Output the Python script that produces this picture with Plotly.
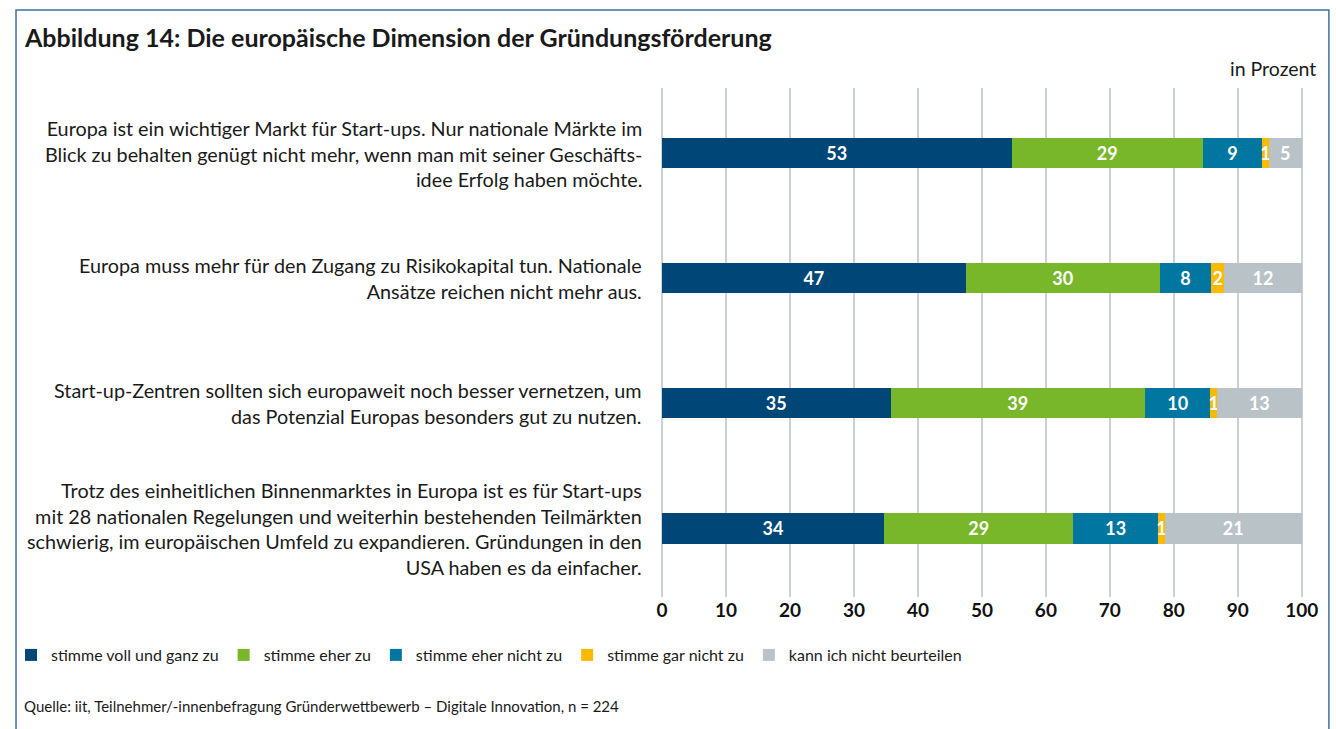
import plotly.graph_objects as go

# ---- data ----
statements = [
    "Europa ist ein wichtiger Markt für Start-ups. Nur nationale Märkte im<br>Blick zu behalten genügt nicht mehr, wenn man mit seiner Geschäfts-<br>idee Erfolg haben möchte.",
    "Europa muss mehr für den Zugang zu Risikokapital tun. Nationale<br>Ansätze reichen nicht mehr aus.",
    "Start-up-Zentren sollten sich europaweit noch besser vernetzen, um<br>das Potenzial Europas besonders gut zu nutzen.",
    "Trotz des einheitlichen Binnenmarktes in Europa ist es für Start-ups<br>mit 28 nationalen Regelungen und weiterhin bestehenden Teilmärkten<br>schwierig, im europäischen Umfeld zu expandieren. Gründungen in den<br>USA haben es da einfacher.",
]
series_names = ["stimme voll und ganz zu", "stimme eher zu", "stimme eher nicht zu",
                "stimme gar nicht zu", "kann ich nicht beurteilen"]
voll_und_ganz = [53, 47, 35, 34]
eher_zu = [29, 30, 39, 29]
eher_nicht = [9, 8, 10, 13]
gar_nicht = [1, 2, 1, 1]
nicht_beurteilen = [5, 12, 13, 21]
series_values = [voll_und_ganz, eher_zu, eher_nicht, gar_nicht, nicht_beurteilen]
colors = ["#004676", "#78b72a", "#0076a0", "#fbb900", "#b9c3c7"]
x_ticks = [0, 10, 20, 30, 40, 50, 60, 70, 80, 90, 100]

FONT = "Lato"
W, H = 1336, 729
L, R, T, B = 659, 31, 88, 132
pw, ph = W - L - R, H - T - B

def px_x(x):
    return (x - L) / pw

def px_y(y):
    return (H - B - y) / ph

keys = list(range(len(statements)))

fig = go.Figure()
for name, vals, col in zip(series_names, series_values, colors):
    fig.add_trace(go.Bar(
        y=keys, x=vals, name=name, orientation="h",
        marker=dict(color=col, line=dict(width=0)),
        text=[str(v) for v in vals], textposition="inside",
        insidetextanchor="middle", constraintext="none",
        textfont=dict(family=FONT, size=18, color="white", weight="bold"),
        width=0.245,
    ))

annotations = []
for k, s in zip(keys, statements):
    annotations.append(dict(
        x=0, y=k, xref="paper", yref="y", xanchor="right", yanchor="middle",
        xshift=-18, align="right", showarrow=False, text=s,
        font=dict(family=FONT, size=19.8, color="#1a1a1a"),
    ))

annotations += [
    dict(x=px_x(16), y=px_y(37), xref="paper", yref="paper", xanchor="left", yanchor="middle",
         showarrow=False, text="<b>Abbildung 14: Die europäische Dimension der Gründungsförderung</b>",
         font=dict(family=FONT, size=25, color="#1a1a1a")),
    dict(x=px_x(1318), y=px_y(68), xref="paper", yref="paper", xanchor="right", yanchor="middle",
         showarrow=False, text="in Prozent", font=dict(family=FONT, size=19.5, color="#1a1a1a")),
    dict(x=px_x(16), y=px_y(706), xref="paper", yref="paper", xanchor="left", yanchor="middle",
         showarrow=False, text="Quelle: iit, Teilnehmer/-innenbefragung Gründerwettbewerb – Digitale Innovation, n = 224",
         font=dict(family=FONT, size=15, color="#1a1a1a")),
]

fig.update_layout(
    width=W, height=H,
    margin=dict(l=L, r=R, t=T, b=B),
    barmode="stack", barnorm="percent",
    plot_bgcolor="white", paper_bgcolor="white",
    uniformtext=dict(minsize=18, mode="show"),
    font=dict(family=FONT, color="#1a1a1a"),
    showlegend=True,
    legend=dict(orientation="h", xref="paper", yref="paper",
                x=px_x(5), y=px_y(655), xanchor="left", yanchor="middle",
                font=dict(family=FONT, size=16, color="#1a1a1a"),
                itemwidth=30, traceorder="normal", bgcolor="rgba(0,0,0,0)"),
    annotations=annotations,
    shapes=[dict(type="rect", xref="paper", yref="paper",
                 x0=px_x(10), x1=px_x(1329), y0=px_y(760), y1=px_y(10),
                 line=dict(color="#3f6fa3", width=1.5), fillcolor="rgba(0,0,0,0)", layer="below")],
    hovermode=False,
)
fig.update_xaxes(range=[0, 100.5], tickvals=x_ticks, ticktext=[str(t) for t in x_ticks],
                 showgrid=True, gridcolor="#c9d1d7", gridwidth=1.5,
                 zeroline=True, zerolinecolor="#c9d1d7", zerolinewidth=1.5,
                 showline=False, ticks="",
                 tickfont=dict(family=FONT, size=19, color="#111111", weight="bold"))
fig.update_yaxes(range=[3.55, -0.52], showticklabels=False, showgrid=False, zeroline=False,
                 tickvals=keys)

fig.write_html("out.html", config={"displayModeBar": False},
               post_script="document.body.style.margin='0';")
